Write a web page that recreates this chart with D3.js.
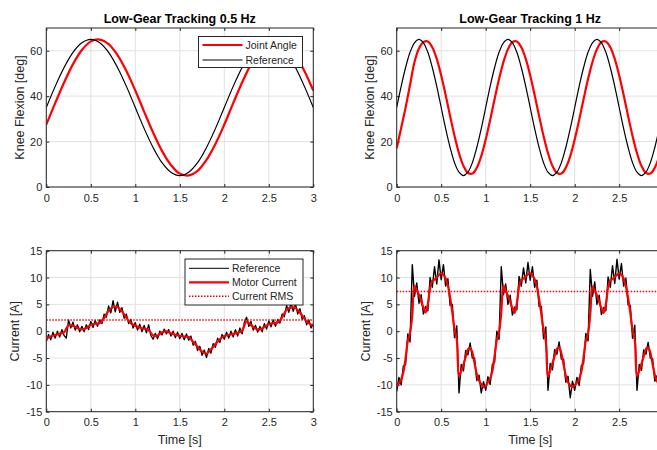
<!DOCTYPE html>
<html><head><meta charset="utf-8">
<script src="https://cdn.jsdelivr.net/npm/d3@7"></script>
<style>
html,body{margin:0;padding:0;background:#fff;overflow:hidden}
svg{display:block;font-family:"Liberation Sans",Arial,Helvetica,sans-serif}
</style></head><body>
<svg id="chart" width="657" height="450"></svg>
<script>
// ---------------- DATA ----------------
const titles = ["Low-Gear Tracking 0.5 Hz", "Low-Gear Tracking 1 Hz"];
const angleLegend = ["Joint Angle", "Reference"];
const currentLegend = ["Reference", "Motor Current", "Current RMS"];
const timeTicks = [0, 0.5, 1, 1.5, 2, 2.5, 3];
const angleTicks = [0, 20, 40, 60];
const currentTicks = [-15, -10, -5, 0, 5, 10, 15];

// 0.5 Hz knee angle, sampled every 0.1 s
const angleStep05 = 0.1;
const refAngle05 = [35,44.3,52.6,59.3,63.5,65,63.5,59.3,52.6,44.3,35,25.7,17.4,10.7,6.5,5,6.5,10.7,17.4,25.7,35,44.3,52.6,59.3,63.5,65,63.5,59.3,52.6,44.3,35];
const jointAngle05 = [27.5,36.9,46.0,54.1,60.3,64.1,64.9,62.9,58.1,51.1,42.5,33.1,24.0,15.9,9.7,5.9,5.1,7.1,11.9,18.9,27.5,36.9,46.0,54.1,60.3,64.1,64.9,62.9,58.1,51.1,42.5];

// 1 Hz knee angle, sampled every 0.05 s
const angleStep1 = 0.05;
const refAngle1 = [35,44.3,52.6,59.3,63.5,65,63.5,59.3,52.6,44.3,35,25.7,17.4,10.7,6.5,5,6.5,10.7,17.4,25.7,
  35,44.3,52.6,59.3,63.5,65,63.5,59.3,52.6,44.3,35,25.7,17.4,10.7,6.5,5,6.5,10.7,17.4,25.7,
  35,44.3,52.6,59.3,63.5,65,63.5,59.3,52.6,44.3,35,25.7,17.4,10.7,6.5,5,6.5,10.7,17.4,25.7,35];
const jointAngle1 = [17,26,35,45,55,61,63.8,64.1,61.5,56.4,49.1,40.5,31.3,22.5,14.9,9.3,6.2,5.9,8.5,13.6,
  20.9,29.5,38.7,47.5,55.1,60.7,63.8,64.1,61.5,56.4,49.1,40.5,31.3,22.5,14.9,9.3,6.2,5.9,8.5,13.6,
  20.9,29.5,38.7,47.5,55.1,60.7,63.8,64.1,61.5,56.4,49.1,40.5,31.3,22.5,14.9,9.3,6.2,5.9,8.5,13.6,20.9];

// 0.5 Hz current: motor current every 0.05 s, reference every 0.025 s
const motorStep05 = 0.05;
const motorCurrent05 = [-1.4,-1.0,-0.7,-0.45,-0.2,1.1,1.0,0.6,0.35,0.6,1.2,1.4,1.5,2.5,3.8,4.5,4.5,3.7,2.5,1.5,
  1.0,0.7,0.45,0.2,-0.8,-0.8,-0.2,-0.05,-0.4,-0.65,-0.85,-1.0,-1.1,-2.0,-2.9,-3.8,-4.2,-3.4,-2.4,-1.5,
  -0.9,-0.7,-0.5,-0.3,0.1,1.8,1.1,0.5,0.3,0.8,1.3,1.5,1.6,2.6,4.0,4.4,4.3,3.5,2.3,1.5,0.9];
const refStep05 = 0.025;
const refCurrent05 = [-2.0,-0.6,-1.6,-0.2,-1.3,0.0,-1.1,0.3,-0.8,-1.3,2.1,0.6,1.7,0.2,1.2,-0.1,0.9,-0.1,1.2,0.3,
  1.8,0.7,2.0,0.9,2.1,1.4,3.2,2.6,4.7,3.4,5.7,3.6,5.4,3.5,4.4,2.4,3.2,1.4,2.2,0.6,
  1.6,0.2,1.3,-0.1,1.1,-0.3,1.2,-0.8,-1.5,-0.4,-1.4,0.0,-0.7,0.4,-0.5,0.3,-0.9,0.0,-1.2,-0.2,
  -1.4,-0.4,-1.6,-0.5,-1.7,-0.9,-2.6,-1.9,-3.6,-2.8,-4.5,-3.5,-4.9,-3.2,-4.1,-2.3,-3.0,-1.3,-2.1,-0.6,
  -1.5,-0.2,-1.3,0.0,-1.1,0.3,-0.9,0.6,-0.5,1.6,2.6,0.9,1.8,0.2,1.1,-0.2,0.9,-0.1,1.4,0.4,
  1.9,0.8,2.1,0.9,2.2,1.5,3.2,2.7,4.8,3.5,5.3,3.7,5.1,3.2,4.2,2.2,2.9,1.2,2.1,0.6,1.4];
const rms05 = 2.1;

// 1 Hz current: both every 0.025 s
const currentStep1 = 0.025;
const motorCurrent1 = [-10.2,-9.7,-9.0,-7.6,-5.0,-1.8,-0.3,3.0,8.4,7.6,6.8,5.6,4.4,3.5,5.0,8.0,9.4,9.6,10.0,10.5,
  10.8,10.5,9.8,8.5,6.3,3.5,0.3,-1.5,-8.3,-7.4,-6.2,-4.8,-3.4,-3.1,-4.0,-6.0,-8.0,-9.2,-9.9,-10.4,
  -10.2,-9.5,-8.8,-7.4,-4.6,-1.6,-0.2,3.6,8.5,7.5,6.6,5.5,4.3,3.4,5.2,8.3,9.6,9.8,10.2,10.6,
  10.8,10.4,9.7,8.3,6.0,3.2,0.2,-1.8,-8.4,-7.3,-6.0,-4.6,-3.3,-3.0,-4.1,-6.2,-8.3,-9.5,-10.1,-10.4,
  -10.1,-9.6,-8.9,-7.5,-4.8,-1.8,-0.4,3.2,8.3,7.5,6.7,5.5,4.3,3.4,5.0,8.1,9.5,9.7,10.1,10.5,
  10.8,10.5,9.8,8.4,6.2,3.4,0.2,-1.6,-8.3,-7.4,-6.1,-4.7,-3.3,-3.0,-4.0,-6.1,-8.1,-9.3,-10.0,-10.3,-10.2];
const refCurrent1 = [-11.2,-8.6,-10.0,-6.5,-6.2,-0.5,-2.0,12.4,6.5,9.0,5.2,6.8,3.2,4.6,3.8,10.0,8.2,12.0,8.8,13.3,
  9.6,12.4,8.4,9.8,4.8,5.0,-1.2,1.0,-11.5,-6.2,-7.4,-3.6,-4.4,-2.2,-5.0,-5.0,-9.2,-8.2,-11.5,-9.4,
  -11.0,-8.5,-9.9,-6.2,-5.8,0.0,-1.5,12.0,6.8,8.8,5.0,6.7,3.0,4.5,4.0,10.2,8.4,11.8,9.0,12.8,
  9.5,12.0,8.2,9.5,4.6,4.6,-1.4,0.8,-11.0,-6.0,-7.2,-3.4,-4.3,-2.0,-5.2,-5.2,-9.5,-8.4,-12.4,-9.3,
  -11.0,-8.6,-10.1,-6.4,-6.0,-0.4,-1.8,11.5,6.5,9.2,5.0,6.7,3.1,4.4,3.8,10.1,8.2,12.2,8.9,13.4,
  9.7,12.6,8.4,9.9,4.9,4.8,-1.3,1.1,-11.0,-6.2,-7.3,-3.5,-4.3,-2.1,-5.0,-5.1,-9.3,-8.3,-11.0,-9.5,-11.0];
const rms1 = 7.4;

// ---------------- DRAWING ----------------
const svg = d3.select("#chart");
const VIEW_W = 657;
const TXT = "#262626";
const GRID = "#e1e1e1";
const RED = "#ff0000";

function toPoints(values, step) { return values.map((v, i) => [i * step, v]); }

function makePanel(o) {
  const x = d3.scaleLinear().domain([0, 3]).range([o.left, o.left + o.width]);
  const y = d3.scaleLinear().domain(o.yDomain).range([o.top + o.height, o.top]);
  const g = svg.append("g");
  const clipId = "clip-" + o.id;
  svg.append("clipPath").attr("id", clipId).append("rect")
    .attr("x", o.left).attr("y", o.top).attr("width", o.width).attr("height", o.height);

  // grid
  g.append("g").selectAll("line").data(timeTicks).join("line")
    .attr("x1", d => x(d)).attr("x2", d => x(d)).attr("y1", o.top).attr("y2", o.top + o.height)
    .attr("stroke", GRID).attr("stroke-width", 1);
  g.append("g").selectAll("line").data(o.yTicks).join("line")
    .attr("y1", d => y(d)).attr("y2", d => y(d)).attr("x1", o.left).attr("x2", o.left + o.width)
    .attr("stroke", GRID).attr("stroke-width", 1);

  const fmt = d => String(d);
  // tick labels beyond the visible figure edge are not drawn
  const xfmt = d => (x(d) + 4 > VIEW_W ? "" : String(d));
  const styleAxis = sel => {
    sel.select(".domain").remove();
    sel.selectAll(".tick line").attr("stroke", TXT).attr("stroke-width", 1);
    sel.selectAll(".tick text").attr("fill", TXT).style("font-size", "11px")
      .style("font-family", '"Liberation Sans",Arial,sans-serif');
  };
  g.append("g").attr("transform", `translate(0,${o.top + o.height})`)
    .call(d3.axisBottom(x).tickValues(timeTicks).tickFormat(xfmt).tickSizeInner(-3).tickSizeOuter(0).tickPadding(7))
    .call(styleAxis);
  g.append("g").attr("transform", `translate(0,${o.top})`)
    .call(d3.axisTop(x).tickValues(timeTicks).tickFormat("").tickSizeInner(-3).tickSizeOuter(0))
    .call(styleAxis);
  g.append("g").attr("transform", `translate(${o.left},0)`)
    .call(d3.axisLeft(y).tickValues(o.yTicks).tickFormat(fmt).tickSizeInner(-3).tickSizeOuter(0).tickPadding(4))
    .call(styleAxis);
  g.append("g").attr("transform", `translate(${o.left + o.width},0)`)
    .call(d3.axisRight(y).tickValues(o.yTicks).tickFormat("").tickSizeInner(-3).tickSizeOuter(0))
    .call(styleAxis);

  const plot = g.append("g").attr("clip-path", `url(#${clipId})`);
  o.series.forEach(s => {
    const line = d3.line().x(d => x(d[0])).y(d => y(d[1])).curve(s.curve || d3.curveLinear);
    plot.append("path").datum(s.points).attr("d", line).attr("fill", "none")
      .attr("stroke", s.color).attr("stroke-width", s.width)
      .attr("stroke-dasharray", s.dash || null).attr("stroke-linejoin", "round");
  });

  // box
  g.append("rect").attr("x", o.left).attr("y", o.top).attr("width", o.width).attr("height", o.height)
    .attr("fill", "none").attr("stroke", TXT).attr("stroke-width", 1);

  // labels
  if (o.title) {
    g.append("text").attr("x", o.left + o.width / 2).attr("y", o.top - 5.5).attr("text-anchor", "middle")
      .attr("fill", "#000").style("font-size", "12.5px").style("font-weight", "bold").text(o.title);
  }
  g.append("text").attr("transform", `translate(${o.ylabelX},${o.top + o.height / 2}) rotate(-90)`)
    .attr("text-anchor", "middle").attr("fill", TXT).style("font-size", "12.5px").text(o.ylabel);
  if (o.xlabel) {
    g.append("text").attr("x", o.left + o.width / 2).attr("y", o.top + o.height + 32)
      .attr("text-anchor", "middle").attr("fill", TXT).style("font-size", "12.5px").text(o.xlabel);
  }

  if (o.legend) {
    const L = o.legend;
    const lg = g.append("g");
    lg.append("rect").attr("x", L.x).attr("y", L.y).attr("width", L.w).attr("height", L.h)
      .attr("fill", "#fff").attr("stroke", TXT).attr("stroke-width", 1);
    L.items.forEach((it, i) => {
      const cy = L.y + L.first + i * L.gap;
      lg.append("line").attr("x1", L.x + 4).attr("x2", L.x + 44).attr("y1", cy).attr("y2", cy)
        .attr("stroke", it.color).attr("stroke-width", it.width).attr("stroke-dasharray", it.dash || null);
      lg.append("text").attr("x", L.x + 47).attr("y", cy + 3.8).attr("fill", TXT)
        .style("font-size", "10.5px").text(it.label);
    });
  }
}

const topTop = 28, topH = 159, botTop = 250.7, botH = 161;
const leftX = 46.3, rightX = 396.7, W = 267;
const smooth = d3.curveCatmullRom.alpha(0.5);

makePanel({
  id: "tl", left: leftX, top: topTop, width: W, height: topH, yDomain: [0, 70], yTicks: angleTicks,
  title: titles[0], ylabel: "Knee Flexion [deg]", ylabelX: 24,
  series: [
    { points: toPoints(jointAngle05, angleStep05), color: RED, width: 2.2, curve: smooth },
    { points: toPoints(refAngle05, angleStep05), color: "#000", width: 1.2, curve: smooth }
  ],
  legend: { x: 198.5, y: 36.5, w: 104, h: 31, first: 8.5, gap: 15,
    items: [ { label: angleLegend[0], color: RED, width: 2.2 }, { label: angleLegend[1], color: "#000", width: 1.2 } ] }
});
makePanel({
  id: "tr", left: rightX, top: topTop, width: W, height: topH, yDomain: [0, 70], yTicks: angleTicks,
  title: titles[1], ylabel: "Knee Flexion [deg]", ylabelX: 374,
  series: [
    { points: toPoints(jointAngle1, angleStep1), color: RED, width: 2.2, curve: smooth },
    { points: toPoints(refAngle1, angleStep1), color: "#000", width: 1.2, curve: smooth }
  ]
});
makePanel({
  id: "bl", left: leftX, top: botTop, width: W, height: botH, yDomain: [-15, 15], yTicks: currentTicks,
  ylabel: "Current [A]", ylabelX: 19, xlabel: "Time [s]",
  series: [
    { points: toPoints(refCurrent05, refStep05), color: "#000", width: 1.3 },
    { points: toPoints(motorCurrent05, motorStep05), color: RED, width: 2.2, curve: smooth },
    { points: [[0, rms05], [3, rms05]], color: RED, width: 1.5, dash: "1.5,1.5" }
  ],
  legend: { x: 185, y: 259, w: 118, h: 46, first: 9.3, gap: 14,
    items: [ { label: currentLegend[0], color: "#333", width: 1.3 }, { label: currentLegend[1], color: RED, width: 2.2 },
             { label: currentLegend[2], color: RED, width: 1.5, dash: "1.5,1.5" } ] }
});
makePanel({
  id: "br", left: rightX, top: botTop, width: W, height: botH, yDomain: [-15, 15], yTicks: currentTicks,
  ylabel: "Current [A]", ylabelX: 369.5, xlabel: "Time [s]",
  series: [
    { points: toPoints(refCurrent1, currentStep1), color: "#000", width: 1.4 },
    { points: toPoints(motorCurrent1, currentStep1), color: RED, width: 2.2, curve: smooth },
    { points: [[0, rms1], [3, rms1]], color: RED, width: 1.5, dash: "1.5,1.5" }
  ]
});
</script>
</body></html>
